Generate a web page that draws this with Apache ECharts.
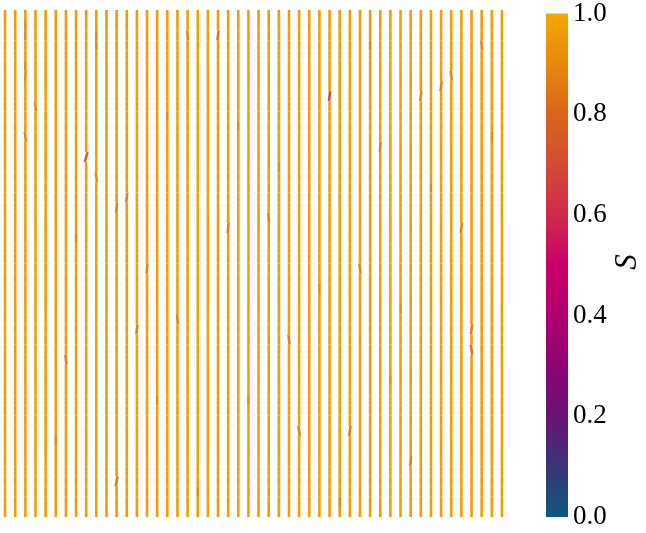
<!DOCTYPE html>
<html><head><meta charset="utf-8">
<script src="https://cdn.jsdelivr.net/npm/echarts@6/dist/echarts.min.js"></script>
<style>html,body{margin:0;padding:0;background:#fff}#c{width:646px;height:533px}</style>
</head><body><div id="c"></div><script>
// Grid of director segments: 50 columns x 50 rows
const nCols = 50, nRows = 50;
// Typical reading: nearly vertical segments, S close to 1
const baseS = 0.97;
const baseAngle = 0;
// Visible deviations: [column, row from top, tilt (deg, + = top leans right), S]
const anomalies = [
  [8,14,16,0.78],[32,8,6,0.72],[21,2,7,0.86],[46,33,-8,0.84],[11,46,10,0.85],
  [22,21,6,0.87],[26,20,-4,0.88],[35,25,-6,0.88],[46,31,7,0.87],[45,21,6,0.88],
  [34,41,7,0.86],[6,34,-6,0.88],[29,41,-7,0.88],[13,31,6,0.88],[40,44,4,0.88],
  [18,2,-4,0.88],[12,18,6,0.88],[2,12,-6,0.89],[14,25,4,0.88],[37,13,4,0.88],
  [28,32,-6,0.88],[17,30,-4,0.88],[9,16,-7,0.9],[11,19,4,0.88],[43,7,7,0.88],
  [44,6,-6,0.89],[41,8,6,0.89],[47,3,-4,0.89],[2,1,0,0.9],[2,2,0,0.9],
  [2,5,0,0.9],[2,6,3,0.9],[3,9,-4,0.9],[9,2,0,0.9],[9,3,0,0.9],
  [7,22,0,0.9],[16,10,0,0.9],[24,38,0,0.9],[27,15,0,0.9],[31,27,0,0.9],
  [38,36,0,0.9],[42,17,0,0.9],[48,12,0,0.9],[5,42,0,0.9],[19,47,0,0.9],
  [33,48,0,0.9],[36,3,0,0.9],[39,29,0,0.9],[23,11,0,0.9],[15,38,0,0.9]
];
// Colour bar ticks and colormap stops (0 → 1)
const cbTicks = [0.0, 0.2, 0.4, 0.6, 0.8, 1.0];
const cmapColors = ['#0b5a7d','#3a3479','#6a1275','#8f0473','#b0006e','#c9006a',
                    '#d02a4c','#d44a33','#d9661c','#e8880e','#f3a800'];

const lookup = {};
anomalies.forEach(a => { lookup[a[0] + ',' + a[1]] = a; });
const segData = [];
for (let c = 0; c < nCols; c++) {
  for (let r = 0; r < nRows; r++) {
    const a = lookup[c + ',' + r];
    segData.push(a ? [c, r, a[2], a[3]] : [c, r, baseAngle, baseS]);
  }
}

const chart = echarts.init(document.getElementById('c'), null, {renderer: 'canvas'});
const fontFam = '"Liberation Serif", "DejaVu Serif", serif';
chart.setOption({
  animation: false,
  backgroundColor: '#fff',
  grid: [
    {left: 0, top: 10, width: 507, height: 507},
    {left: 546, top: 10, width: 22, height: 507}
  ],
  xAxis: [
    {gridIndex: 0, type: 'value', min: -0.5, max: nCols - 0.5, show: false},
    {gridIndex: 1, type: 'value', min: 0, max: 1, show: false}
  ],
  yAxis: [
    {gridIndex: 0, type: 'value', min: -0.5, max: nRows - 0.5, inverse: true, show: false},
    {gridIndex: 1, type: 'value', min: 0, max: 1, interval: 0.2, position: 'right',
     axisLine: {show: false}, axisTick: {show: false}, splitLine: {show: false},
     axisLabel: {show: true, margin: 5, color: '#000', fontSize: 27, fontFamily: fontFam,
                 showMinLabel: true, showMaxLabel: true,
                 formatter: v => v.toFixed(1)}}
  ],
  visualMap: {
    show: false, type: 'continuous', min: 0, max: 1, dimension: 3, seriesIndex: 0,
    inRange: {color: cmapColors}
  },
  series: [
    {
      type: 'custom', xAxisIndex: 0, yAxisIndex: 0, data: segData,
      renderItem: function (params, api) {
        const x = api.value(0), y = api.value(1), ang = api.value(2) * Math.PI / 180;
        const h = 0.5;
        const p1 = api.coord([x - h * Math.sin(ang), y + h * Math.cos(ang)]);
        const p2 = api.coord([x + h * Math.sin(ang), y - h * Math.cos(ang)]);
        return {type: 'line', shape: {x1: p1[0], y1: p1[1], x2: p2[0], y2: p2[1]},
                style: {stroke: api.visual('color'), lineWidth: 2.6, lineCap: 'butt'}};
      }
    },
    {
      type: 'custom', xAxisIndex: 1, yAxisIndex: 1, data: [[0]],
      renderItem: function (params, api) {
        const tl = api.coord([0, 1]), br = api.coord([1, 0]);
        const stops = cmapColors.map((c, i) => ({offset: 1 - i / (cmapColors.length - 1), color: c})).reverse();
        return {type: 'rect', shape: {x: tl[0], y: tl[1], width: br[0] - tl[0], height: br[1] - tl[1]},
                style: {fill: new echarts.graphic.LinearGradient(0, 0, 0, 1, stops)}};
      }
    }
  ],
  graphic: [{
    type: 'text', x: 628, y: 262, rotation: Math.PI / 2,
    style: {text: 'S', fontSize: 31, fontStyle: 'italic', fontFamily: fontFam, fill: '#000',
            align: 'center', verticalAlign: 'middle'}
  }]
});
</script></body></html>
